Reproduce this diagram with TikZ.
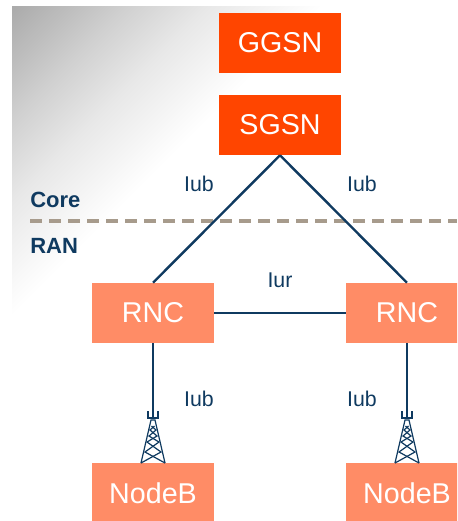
\documentclass[tikz,border=0pt]{standalone}
\usepackage{fontspec}
\setmainfont{Liberation Sans}
\definecolor{coredark}{HTML}{FF4500}
\definecolor{ranlight}{HTML}{FF8C66}
\definecolor{linkblue}{HTML}{0F3A60}
\definecolor{sandline}{HTML}{A79B8C}
\pgfdeclarehorizontalshading{cornerfade}{100bp}{
  color(0bp)=(black!33); color(14.65bp)=(black!33); color(25bp)=(black!18); color(32bp)=(black!9); color(42bp)=(white); color(100bp)=(white)}
\tikzset{
  core/.style={fill=coredark,text=white,minimum width=91.5pt,minimum height=45pt,inner sep=0pt,font=\fontsize{21.5}{24}\selectfont},
  ran/.style={fill=ranlight,text=white,minimum width=91.5pt,minimum height=45pt,inner sep=0pt,font=\fontsize{21.5}{24}\selectfont},
  link/.style={draw=linkblue,line width=1.8pt},
  mast/.style={draw=linkblue,line width=0.9pt},
  iface/.style={text=linkblue,font=\fontsize{16}{18}\selectfont},
  side/.style={text=linkblue,font=\bfseries\fontsize{16.5}{18}\selectfont,inner xsep=0pt}
}
% one tower, its foot standing on the box below
\newcommand{\drawmast}[1]{
  \draw[mast] (#1-5,411) -- (#1-5,418) -- (#1+5,418) -- (#1+5,411);
  \draw[mast] (#1-12,463) -- (#1-2,420) -- (#1+2,420) -- (#1+12,463);
  \draw[mast] (#1-1.5,426) -- (#1+3,430) -- (#1-4,436) -- (#1+6,442) -- (#1-8,452) -- (#1+12,463);
  \draw[mast] (#1+1.5,426) -- (#1-3,430) -- (#1+4,436) -- (#1-6,442) -- (#1+8,452) -- (#1-12,463);
}
\begin{document}
\begin{tikzpicture}[x=0.75pt,y=-0.75pt]
    \useasboundingbox (0,0) rectangle (457,521);
    \clip (0,0) rectangle (457,521);
    % Background
    \shade[shading=cornerfade,shading angle=-45] (12,6) rectangle (457,360);
    % Boxes
    \node[core] (ggsn) at (280,43) {GGSN};
    \node[core] (sgsn) at (280,125) {SGSN};
    \node[ran] (rnc1) at (153,313) {RNC};
    \node[ran] (rnc2) at (407,313) {RNC};
    \node[ran] (nodeb1) at (153,493) {NodeB};
    \node[ran] (nodeb2) at (407,493) {NodeB};
    % Core / RAN border
    \coordinate (borderl) at (30,221);
    \coordinate (borderr) at (457,221);
    \draw[draw=sandline,line width=3pt,dash pattern=on 8.7pt off 5.55pt] (borderl) -- (borderr);
    \node[side,anchor=west] (core) at (30,200) {Core};
    \node[side,anchor=west] (ran) at (30,246) {RAN};
    % Links
    \coordinate (mast1) at (153,418);
    \coordinate (mast2) at (407,418);
    \draw[link] (sgsn.south) -- (rnc1.north);
    \draw[link] (sgsn.south) -- (rnc2.north);
    \draw[link] (rnc1) -- (rnc2);
    \draw[link] (rnc1.south) -- (mast1);
    \draw[link] (rnc2.south) -- (mast2);
    % Towers
    \drawmast{153}
    \drawmast{407}
    % Labels
    \node[iface] (iub1) at (199,184) {Iub};
    \node[iface] (iub2) at (362,184) {Iub};
    \node[iface] (iur) at (280,280) {Iur};
    \node[iface] (iub3) at (199,399) {Iub};
    \node[iface] (iub4) at (362,399) {Iub};
\end{tikzpicture}
\end{document}
